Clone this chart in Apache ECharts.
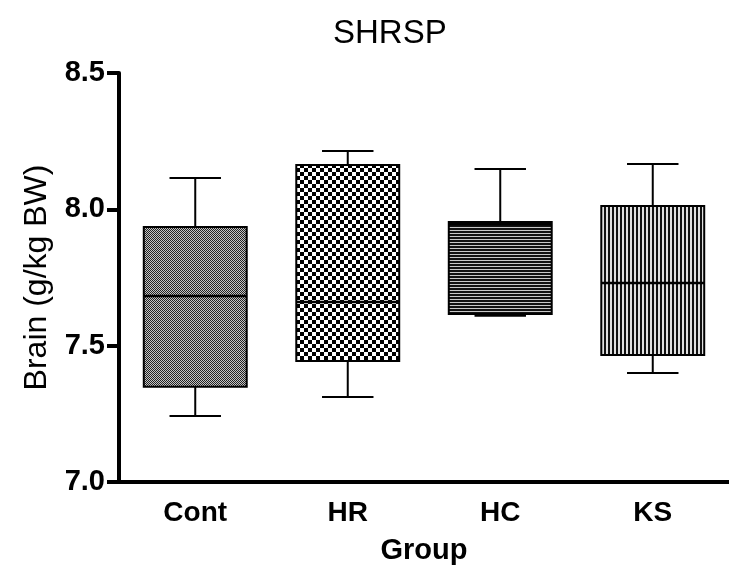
<!DOCTYPE html>
<html>
<head>
<meta charset="utf-8">
<script src="https://cdn.jsdelivr.net/npm/echarts@6/dist/echarts.min.js"></script>
<style>
html,body{margin:0;padding:0;background:#fff;}
#chart{width:729px;height:574px;}
</style>
</head>
<body>
<div id="chart"></div>
<script>
// ---- data ----
var categories = ['Cont', 'HR', 'HC', 'KS'];
var mins    = [7.242, 7.312, 7.610, 7.400];
var q1s     = [7.349, 7.444, 7.616, 7.466];
var medians = [7.682, 7.660, 7.945, 7.730];
var q3s     = [7.935, 8.163, 7.954, 8.012];
var maxs    = [8.115, 8.214, 8.148, 8.166];
var yTicks  = [7.0, 7.5, 8.0, 8.5];

// ---- fill patterns ----
function makeTile(w, h, draw) {
  var c = document.createElement('canvas');
  c.width = w; c.height = h;
  var ctx = c.getContext('2d');
  ctx.fillStyle = '#fff';
  ctx.fillRect(0, 0, w, h);
  draw(ctx);
  return {type: 'pattern', image: c, repeat: 'repeat'};
}
var patterns = [
  makeTile(2, 2, function (ctx) { ctx.fillStyle = '#222'; ctx.fillRect(0, 0, 1, 1); ctx.fillRect(1, 1, 1, 1); ctx.fillStyle = '#c4c4c4'; ctx.fillRect(1, 0, 1, 1); ctx.fillRect(0, 1, 1, 1); }),
  makeTile(8, 8, function (ctx) { ctx.fillStyle = '#000'; ctx.fillRect(0, 0, 4, 4); ctx.fillRect(4, 4, 4, 4); }),
  makeTile(3, 3, function (ctx) { ctx.fillStyle = '#111'; ctx.fillRect(0, 0, 3, 2); ctx.fillStyle = '#c8c8c8'; ctx.fillRect(0, 2, 3, 1); }),
  makeTile(4, 4, function (ctx) { ctx.fillStyle = '#111'; ctx.fillRect(0, 0, 2, 4); ctx.fillStyle = '#e0e0e0'; ctx.fillRect(2, 0, 2, 4); })
];

var seriesData = categories.map(function (c, i) {
  return [i, mins[i], q1s[i], medians[i], q3s[i], maxs[i]];
});

function renderItem(params, api) {
  var idx = api.value(0);
  var pMin = api.coord([idx, api.value(1)]);
  var pQ1 = api.coord([idx, api.value(2)]);
  var pMed = api.coord([idx, api.value(3)]);
  var pQ3 = api.coord([idx, api.value(4)]);
  var pMax = api.coord([idx, api.value(5)]);
  var cx = pMed[0];
  var half = api.size([1, 0])[0] * 0.675 / 2;
  var capHalf = half / 2;
  var lineStyle = {stroke: '#000', lineWidth: 2};
  return {
    type: 'group',
    children: [
      {type: 'line', shape: {x1: cx, y1: pQ3[1], x2: cx, y2: pMax[1]}, style: lineStyle},
      {type: 'line', shape: {x1: cx - capHalf, y1: pMax[1], x2: cx + capHalf, y2: pMax[1]}, style: lineStyle},
      {type: 'line', shape: {x1: cx, y1: pQ1[1], x2: cx, y2: pMin[1]}, style: lineStyle},
      {type: 'line', shape: {x1: cx - capHalf, y1: pMin[1], x2: cx + capHalf, y2: pMin[1]}, style: lineStyle},
      {type: 'rect', shape: {x: cx - half, y: pQ3[1], width: half * 2, height: pQ1[1] - pQ3[1]},
        style: {fill: patterns[params.dataIndex], stroke: '#000', lineWidth: 2}},
      {type: 'line', shape: {x1: cx - half, y1: pMed[1], x2: cx + half, y2: pMed[1]}, style: {stroke: '#000', lineWidth: 2.5}}
    ]
  };
}

var chart = echarts.init(document.getElementById('chart'), null, {renderer: 'canvas'});
chart.setOption({
  animation: false,
  backgroundColor: '#fff',
  title: {
    text: 'SHRSP',
    left: 328,
    top: 12,
    textStyle: {fontFamily: 'Liberation Sans', fontWeight: 'normal', fontSize: 33, color: '#000'}
  },
  grid: {left: 119, right: -7, top: 73, bottom: 92, containLabel: false},
  xAxis: {
    type: 'category',
    data: categories,
    name: 'Group',
    nameLocation: 'middle',
    nameGap: 54,
    nameTextStyle: {fontFamily: 'Liberation Sans', fontWeight: 'bold', fontSize: 29, color: '#000'},
    axisLine: {lineStyle: {color: '#000', width: 4}},
    axisTick: {show: false},
    axisLabel: {fontFamily: 'Liberation Sans', fontWeight: 'bold', fontSize: 28, color: '#000', margin: 17},
    splitLine: {show: false}
  },
  yAxis: {
    type: 'value',
    min: yTicks[0],
    max: yTicks[yTicks.length - 1],
    interval: 0.5,
    name: 'Brain (g/kg BW)',
    nameLocation: 'middle',
    nameGap: 66,
    nameTextStyle: {fontFamily: 'Liberation Sans', fontWeight: 'normal', fontSize: 32, color: '#000'},
    axisLine: {show: true, lineStyle: {color: '#000', width: 4}},
    axisTick: {show: true, length: 12, lineStyle: {color: '#000', width: 4}},
    axisLabel: {fontFamily: 'Liberation Sans', fontWeight: 'bold', fontSize: 29, color: '#000', margin: 14,
      formatter: function (v) { return v.toFixed(1); }},
    splitLine: {show: false}
  },
  series: [{
    type: 'custom',
    renderItem: renderItem,
    encode: {x: 0, y: [1, 2, 3, 4, 5]},
    data: seriesData
  }]
});
</script>
</body>
</html>
